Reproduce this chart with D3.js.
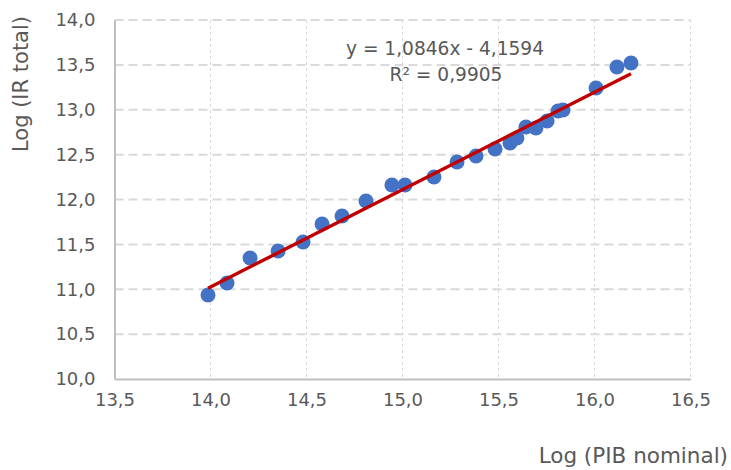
<!DOCTYPE html>
<html>
<head>
<meta charset="utf-8">
<script src="https://cdn.jsdelivr.net/npm/d3@7"></script>
<style>
  html, body { margin: 0; padding: 0; background: #fff; }
  svg { display: block; }
  text { font-family: "DejaVu Sans", sans-serif; fill: #595959; }
</style>
</head>
<body>
<div id="chart"></div>
<script>
// ---- data ----
const logPIB = [13.987, 14.086, 14.206, 14.352, 14.482, 14.581, 14.685, 14.810,
                14.945, 15.013, 15.164, 15.284, 15.383, 15.482, 15.560, 15.596,
                15.643, 15.695, 15.753, 15.810, 15.836, 16.008, 16.117, 16.190];
const logIR  = [10.936, 11.070, 11.348, 11.426, 11.526, 11.727, 11.816, 11.983,
                12.162, 12.162, 12.250, 12.418, 12.485, 12.563, 12.630, 12.685,
                12.808, 12.797, 12.875, 12.986, 12.997, 13.242, 13.476, 13.521];
const xTicks = [13.5, 14.0, 14.5, 15.0, 15.5, 16.0, 16.5];
const yTicks = [10.0, 10.5, 11.0, 11.5, 12.0, 12.5, 13.0, 13.5, 14.0];
const slope = 1.0846, intercept = -4.1594;
const eqLabel = "y = 1,0846x - 4,1594";
const r2Label = "R² = 0,9905";
const xTitle = "Log (PIB nominal)";
const yTitle = "Log (IR total)";

// ---- layout ----
const W = 731, H = 470;
const pL = 114.5, pR = 690.5, pT = 20, pB = 379;
const fmt = v => d3.format(".1f")(v).replace(".", ",");

const svg = d3.select("#chart").append("svg").attr("width", W).attr("height", H);

const x = d3.scaleLinear().domain([13.5, 16.5]).range([pL, pR]);
const y = d3.scaleLinear().domain([10, 14]).range([pB, pT]);

// horizontal gridlines
svg.append("g").selectAll("line").data(yTicks.filter(t => t > 10)).join("line")
  .attr("x1", pL).attr("x2", pR)
  .attr("y1", d => y(d)).attr("y2", d => y(d))
  .attr("stroke", "#D9D9D9").attr("stroke-width", 2)
  .attr("stroke-dasharray", "9,5");

// vertical gridlines
svg.append("g").selectAll("line").data(xTicks.filter(t => t > 13.5)).join("line")
  .attr("x1", d => x(d)).attr("x2", d => x(d))
  .attr("y1", pT).attr("y2", pB)
  .attr("stroke", "#D9D9D9").attr("stroke-width", 1)
  .attr("stroke-dasharray", "3,3");

// axes
const xAxis = d3.axisBottom(x).tickValues(xTicks).tickFormat(fmt).tickSize(0).tickPadding(14);
const gx = svg.append("g").attr("transform", `translate(0,${pB})`).call(xAxis);
gx.select(".domain").attr("stroke", "#BFBFBF").attr("stroke-width", 2);
gx.selectAll("text").attr("font-size", 18).attr("fill", "#595959")
  .attr("font-family", "DejaVu Sans, sans-serif");

const yAxis = d3.axisLeft(y).tickValues(yTicks).tickFormat(fmt).tickSize(0).tickPadding(19);
const gy = svg.append("g").attr("transform", `translate(${pL},0)`).call(yAxis);
gy.select(".domain").attr("stroke", "#BFBFBF").attr("stroke-width", 2);
gy.selectAll("text").attr("font-size", 18).attr("fill", "#595959")
  .attr("font-family", "DejaVu Sans, sans-serif");

// points
const pts = logPIB.map((v, i) => ({ x: v, y: logIR[i] }));
svg.append("g").selectAll("circle").data(pts).join("circle")
  .attr("cx", d => x(d.x)).attr("cy", d => y(d.y)).attr("r", 7.5)
  .attr("fill", "#4472C4");

// trendline
const xExt = d3.extent(logPIB);
const tl = xExt.map(v => ({ x: v, y: slope * v + intercept }));
svg.append("path").datum(tl)
  .attr("d", d3.line().x(d => x(d.x)).y(d => y(d.y)))
  .attr("stroke", "#C00000").attr("stroke-width", 3.4).attr("fill", "none");

// equation
svg.append("text").attr("x", 445).attr("y", 55).attr("text-anchor", "middle")
  .attr("font-size", 18.6).text(eqLabel);
svg.append("text").attr("x", 446).attr("y", 81).attr("text-anchor", "middle")
  .attr("font-size", 18.6).text(r2Label);

// titles
svg.append("text").attr("transform", "translate(28,84) rotate(-90)")
  .attr("text-anchor", "middle").attr("font-size", 21).text(yTitle);
svg.append("text").attr("x", 728).attr("y", 463).attr("text-anchor", "end")
  .attr("font-size", 21.5).text(xTitle);
</script>
</body>
</html>
